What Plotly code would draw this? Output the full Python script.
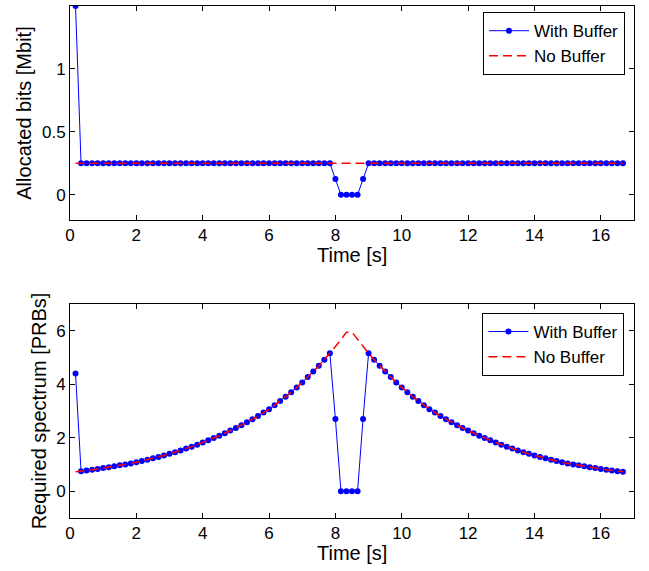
import plotly.graph_objects as go

# Time samples [s] (every 1/6 s)
time_s = [
    0.167, 0.333, 0.500, 0.667, 0.833, 1.000, 1.167, 1.333, 1.500, 1.667,
    1.833, 2.000, 2.167, 2.333, 2.500, 2.667, 2.833, 3.000, 3.167, 3.333,
    3.500, 3.667, 3.833, 4.000, 4.167, 4.333, 4.500, 4.667, 4.833, 5.000,
    5.167, 5.333, 5.500, 5.667, 5.833, 6.000, 6.167, 6.333, 6.500, 6.667,
    6.833, 7.000, 7.167, 7.333, 7.500, 7.667, 7.833, 8.000, 8.167, 8.333,
    8.500, 8.667, 8.833, 9.000, 9.167, 9.333, 9.500, 9.667, 9.833, 10.000,
    10.167, 10.333, 10.500, 10.667, 10.833, 11.000, 11.167, 11.333, 11.500, 11.667,
    11.833, 12.000, 12.167, 12.333, 12.500, 12.667, 12.833, 13.000, 13.167, 13.333,
    13.500, 13.667, 13.833, 14.000, 14.167, 14.333, 14.500, 14.667, 14.833, 15.000,
    15.167, 15.333, 15.500, 15.667, 15.833, 16.000, 16.167, 16.333, 16.500, 16.667,
]

# Top panel: allocated bits [Mbit]
bits_with_buffer = ([1.5] + [0.25] * 46 + [0.125, 0.0, 0.0, 0.0, 0.0, 0.125] + [0.25] * 47)
bits_no_buffer = [0.25] * 100

# Bottom panel: required spectrum [PRBs]
prb_no_buffer = [
    0.730, 0.746, 0.774, 0.803, 0.834, 0.865, 0.898, 0.931, 0.967, 1.003,
    1.041, 1.080, 1.127, 1.177, 1.229, 1.283, 1.339, 1.398, 1.461, 1.527,
    1.595, 1.667, 1.742, 1.820, 1.902, 1.988, 2.077, 2.168, 2.266, 2.365,
    2.469, 2.581, 2.694, 2.812, 2.939, 3.068, 3.216, 3.370, 3.533, 3.702,
    3.881, 4.068, 4.268, 4.473, 4.692, 4.918, 5.160, 5.409, 5.669, 5.947,
    5.947, 5.669, 5.409, 5.160, 4.918, 4.692, 4.473, 4.268, 4.068, 3.881,
    3.702, 3.533, 3.370, 3.216, 3.068, 2.939, 2.812, 2.694, 2.581, 2.469,
    2.365, 2.266, 2.168, 2.077, 1.988, 1.902, 1.820, 1.742, 1.667, 1.595,
    1.527, 1.461, 1.398, 1.339, 1.283, 1.229, 1.177, 1.127, 1.080, 1.041,
    1.003, 0.967, 0.931, 0.898, 0.865, 0.834, 0.803, 0.774, 0.746, 0.730,
]
prb_with_buffer = [
    4.400, 0.746, 0.774, 0.803, 0.834, 0.865, 0.898, 0.931, 0.967, 1.003,
    1.041, 1.080, 1.127, 1.177, 1.229, 1.283, 1.339, 1.398, 1.461, 1.527,
    1.595, 1.667, 1.742, 1.820, 1.902, 1.988, 2.077, 2.168, 2.266, 2.365,
    2.469, 2.581, 2.694, 2.812, 2.939, 3.068, 3.216, 3.370, 3.533, 3.702,
    3.881, 4.068, 4.268, 4.473, 4.692, 4.918, 5.160, 2.700, 0.000, 0.000,
    0.000, 0.000, 2.700, 5.160, 4.918, 4.692, 4.473, 4.268, 4.068, 3.881,
    3.702, 3.533, 3.370, 3.216, 3.068, 2.939, 2.812, 2.694, 2.581, 2.469,
    2.365, 2.266, 2.168, 2.077, 1.988, 1.902, 1.820, 1.742, 1.667, 1.595,
    1.527, 1.461, 1.398, 1.339, 1.283, 1.229, 1.177, 1.127, 1.080, 1.041,
    1.003, 0.967, 0.931, 0.898, 0.865, 0.834, 0.803, 0.774, 0.746, 0.730,
]

x_ticks = [0, 2, 4, 6, 8, 10, 12, 14, 16]
top_y_ticks = [0, 0.5, 1, 1.5]
top_y_ticktext = ["0", "0.5", "1", "1.5"]
bottom_y_ticks = [0, 2, 4, 6]

BLUE = "rgb(0,0,255)"
RED = "rgb(255,0,0)"
FONT = "Liberation Sans, Arial, Helvetica, sans-serif"

fig = go.Figure()

# top
fig.add_trace(go.Scatter(x=time_s, y=bits_with_buffer, mode="lines+markers", name="With Buffer",
                         line=dict(color=BLUE, width=1), marker=dict(color=BLUE, size=6),
                         xaxis="x", yaxis="y", legend="legend"))
fig.add_trace(go.Scatter(x=time_s, y=bits_no_buffer, mode="lines", name="No Buffer",
                         line=dict(color=RED, width=1.5, dash="9px,5px"),
                         xaxis="x", yaxis="y", legend="legend"))
# bottom
fig.add_trace(go.Scatter(x=time_s, y=prb_with_buffer, mode="lines+markers", name="With Buffer",
                         line=dict(color=BLUE, width=1), marker=dict(color=BLUE, size=6),
                         xaxis="x2", yaxis="y2", legend="legend2"))
fig.add_trace(go.Scatter(x=time_s, y=prb_no_buffer, mode="lines", name="No Buffer",
                         line=dict(color=RED, width=1.5, dash="9px,5px"),
                         xaxis="x2", yaxis="y2", legend="legend2"))

axis_common = dict(showline=True, linecolor="black", linewidth=1, mirror="ticks",
                   ticks="inside", ticklen=5, tickcolor="black", tickwidth=1,
                   showgrid=False, zeroline=False, automargin=False,
                   tickfont=dict(family=FONT, size=17, color="black"))
TITLE_SIZE = 20

fig.update_layout(
    width=649, height=571,
    margin=dict(l=70, r=15, t=6, b=53),
    paper_bgcolor="white", plot_bgcolor="white",
    font=dict(family=FONT, color="black"),
    showlegend=True,
    xaxis=dict(domain=[0, 1], range=[0, 17], tickvals=x_ticks, anchor="y", **axis_common),
    yaxis=dict(domain=[0.582, 1], range=[-0.2, 1.5], tickvals=top_y_ticks, ticktext=top_y_ticktext,
               anchor="x",
               title=dict(text="Allocated bits [Mbit]", font=dict(family=FONT, size=TITLE_SIZE), standoff=4),
               **axis_common),
    xaxis2=dict(domain=[0, 1], range=[0, 17], tickvals=x_ticks, anchor="y2", **axis_common),
    yaxis2=dict(domain=[0, 0.418], range=[-1, 7], tickvals=bottom_y_ticks, anchor="x2",
                title=dict(text="Required spectrum [PRBs]", font=dict(family=FONT, size=TITLE_SIZE), standoff=4),
                **axis_common),
    legend=dict(x=0.984, y=0.988, xanchor="right", yanchor="top",
                bgcolor="white", bordercolor="black", borderwidth=1,
                font=dict(family=FONT, size=17, color="black"),
                itemwidth=40, tracegroupgap=0),
    legend2=dict(x=0.983, y=0.4004, xanchor="right", yanchor="top",
                 bgcolor="white", bordercolor="black", borderwidth=1,
                 font=dict(family=FONT, size=17, color="black"),
                 itemwidth=40, tracegroupgap=0),
    annotations=[
        dict(text="Time [s]", xref="paper", yref="paper", x=0.5, y=0.5137,
             xanchor="center", yanchor="middle", showarrow=False,
             font=dict(family=FONT, size=TITLE_SIZE, color="black")),
        dict(text="Time [s]", xref="paper", yref="paper", x=0.5, y=-0.0684,
             xanchor="center", yanchor="middle", showarrow=False,
             font=dict(family=FONT, size=TITLE_SIZE, color="black")),
    ],
)

fig.write_html("out.html", config={"displayModeBar": False},
               post_script="document.body.style.margin='0';document.body.style.overflow='hidden';")
